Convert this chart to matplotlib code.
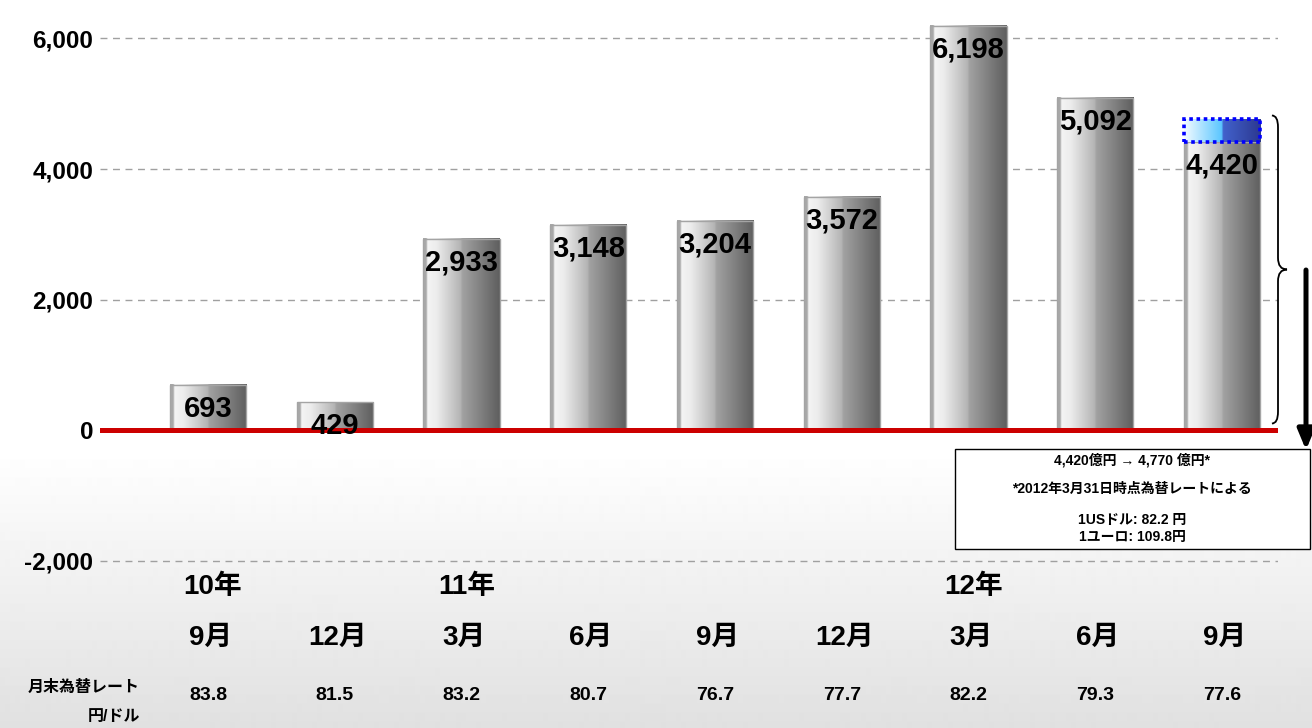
import numpy as np
import matplotlib
matplotlib.use("Agg")
import matplotlib.pyplot as plt
import matplotlib.transforms as mtransforms
from matplotlib.colors import LinearSegmentedColormap
from matplotlib.patches import Rectangle, PathPatch, FancyArrowPatch
from matplotlib.path import Path

# ---------------- data ----------------
month_labels = ['9月', '12月', '3月', '6月', '9月', '12月', '3月', '6月', '9月']
year_labels = ['10年', '', '11年', '', '', '', '12年', '', '']
values = [693, 429, 2933, 3148, 3204, 3572, 6198, 5092, 4420]
rates = ['83.8', '81.5', '83.2', '80.7', '76.7', '77.7', '82.2', '79.3', '77.6']
converted_value = 4770
ytick_values = [-2000, 0, 2000, 4000, 6000]
rate_title = '月末為替レート'
rate_unit = '円/ドル'
note_lines = ['4,420億円 → 4,770 億円*',
              '*2012年3月31日時点為替レートによる',
              '1USドル: 82.2 円',
              '1ユーロ: 109.8円']

# ---------------- style ----------------
plt.rcParams['font.family'] = ['Liberation Sans', 'Noto Sans CJK JP', 'DejaVu Sans']
plt.rcParams['font.weight'] = 'bold'

W, H = 1312, 728
fig = plt.figure(figsize=(W / 100, H / 100), dpi=100)


def fx(px):
    return px / W


def fy(py):
    return 1 - py / H


# background gradient (white top, light grey bottom band)
bg = fig.add_axes([0, 0, 1, 1], zorder=-1)
rows = np.arange(H)
shade = np.where(rows < 450, 1.0, 1.0 - (rows - 450) / (H - 450) * 0.12)
bg.imshow(shade[:, None], cmap='gray', vmin=0, vmax=1, extent=[0, 1, 0, 1],
          aspect='auto', interpolation='bilinear')
bg.set_axis_off()

# main axes
ax = fig.add_axes([fx(100), fy(600), fx(1278) - fx(100), 600 / H], zorder=1)
ax.set_facecolor('none')
for s in ax.spines.values():
    s.set_visible(False)

n = len(values)
pos = np.arange(n)
bw = 0.6

bar_cmap = LinearSegmentedColormap.from_list('bar', [
    (0.0, '#a8a8a8'), (0.04, '#a8a8a8'), (0.06, '#f4f4f4'), (0.18, '#ececec'),
    (0.49, '#b4b4b4'), (0.51, '#a2a2a2'), (1.0, '#5e5e5e')])
blue_cmap = LinearSegmentedColormap.from_list('blue', [
    (0.0, '#f4fbff'), (0.49, '#5ac6ff'), (0.51, '#4262cc'), (1.0, '#2c3890')])
grad = np.linspace(0, 1, 256)[None, :]

# gridlines
for yv in ytick_values:
    if yv != 0:
        ax.axhline(yv, color='#a0a0a0', lw=1, ls=(0, (5, 4)), zorder=1)
ax.axhline(0, color='#cc0000', lw=3.6, zorder=4)

bars = ax.bar(pos, values, width=bw, facecolor='none', edgecolor='#a4a4a4',
              lw=1, zorder=3)
for b in bars:
    x0 = b.get_x()
    ax.imshow(grad, cmap=bar_cmap, extent=[x0, x0 + b.get_width(), 0, b.get_height()],
              aspect='auto', interpolation='bilinear', zorder=2.9)

# converted (blue dotted) segment on last bar
last = n - 1
ax.imshow(grad, cmap=blue_cmap,
          extent=[last - bw / 2, last + bw / 2, values[last], converted_value],
          aspect='auto', interpolation='bilinear', zorder=3.5)
ax.add_patch(Rectangle((last - bw / 2, values[last]), bw, converted_value - values[last],
                       fill=False, edgecolor='#0000ff', lw=2.6, ls=(0, (1, 1)), zorder=3.6))

# value labels
for x, v in zip(pos, values):
    ax.annotate(f'{v:,}', (x, v), xytext=(0, -24), textcoords='offset pixels',
                ha='center', va='center', fontsize=21, fontweight='bold', zorder=5)

ax.set_xlim(-0.852, 8.442)
ax.set_ylim(-2605, 6590)
ax.set_xticks([])
ax.set_yticks(ytick_values)
ax.set_yticklabels([f'{v:,}' for v in ytick_values], fontsize=17.5, fontweight='bold')
ax.tick_params(axis='y', length=0, pad=5)

# brace
bx0, bx1, bx2 = 8.394, 8.442, 8.513
ytop, ybot = converted_value + 50, 100
ymid = (ytop + ybot) / 2
r = 180
verts = [(bx0, ytop), (bx1, ytop), (bx1, ytop - r),
         (bx1, ymid + r),
         (bx1, ymid), (bx2, ymid),
         (bx1, ymid), (bx1, ymid - r),
         (bx1, ybot + r),
         (bx1, ybot), (bx0, ybot)]
codes = [Path.MOVETO, Path.CURVE3, Path.CURVE3,
         Path.LINETO,
         Path.CURVE3, Path.CURVE3,
         Path.CURVE3, Path.CURVE3,
         Path.LINETO,
         Path.CURVE3, Path.CURVE3]
ax.add_patch(PathPatch(Path(verts, codes), fill=False, lw=1.3, edgecolor='black',
                       clip_on=False, zorder=5))

# bottom category labels
bt = mtransforms.blended_transform_factory(ax.transData, fig.transFigure)
for x, yl, ml, rt in zip(pos, year_labels, month_labels, rates):
    if yl:
        fig.text(x + 0.04, fy(587), yl, transform=bt, ha='center', va='center',
                 fontsize=20, fontweight='bold')
    fig.text(x + 0.02, fy(638), ml, transform=bt, ha='center', va='center',
             fontsize=20, fontweight='bold')
    fig.text(x, fy(695), rt, transform=bt, ha='center', va='center',
             fontsize=14, fontweight='bold')
fig.text(fx(140), fy(687), rate_title, ha='right', va='center', fontsize=11.5, fontweight='bold')
fig.text(fx(140), fy(716), rate_unit, ha='right', va='center', fontsize=11.5, fontweight='bold')

# note box
fig.add_artist(Rectangle((fx(955), fy(549)), fx(1310) - fx(955), (549 - 449) / H,
                         transform=fig.transFigure, facecolor='white',
                         edgecolor='black', lw=1, zorder=5))
cx = fx(1132)
for yy, t in zip([460, 489, 520, 537], note_lines):
    fig.text(cx, fy(yy), t, ha='center', va='center', fontsize=10,
             fontweight='bold', zorder=6)

# arrow
fig.add_artist(FancyArrowPatch((fx(1306), fy(270)), (fx(1306), fy(450)),
                               transform=fig.transFigure, arrowstyle='-|>,head_length=12,head_width=5',
                               mutation_scale=1, lw=3.6, color='black',
                               shrinkA=0, shrinkB=0, zorder=7))

fig.savefig('out.png', dpi=100)
